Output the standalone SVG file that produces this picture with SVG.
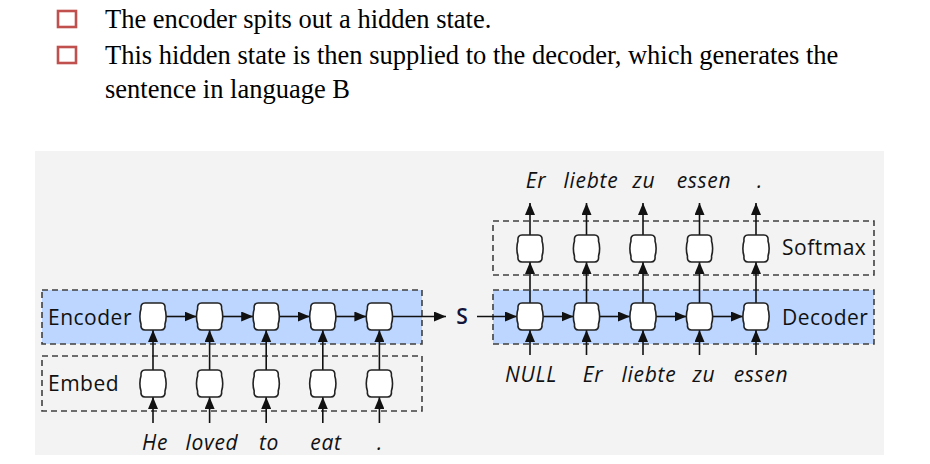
<svg xmlns="http://www.w3.org/2000/svg" xmlns:xlink="http://www.w3.org/1999/xlink" width="930" height="464" viewBox="0 0 930 464">
<style>
.hdr{font-family:"Liberation Serif","Times New Roman",serif;font-size:26.5px;fill:#000}
.bul{fill:none;stroke:#c0504d;stroke-width:2.6}
.lbl{font-family:"Open Sans","Noto Sans",sans-serif;font-size:21px;letter-spacing:0.5px;fill:#111}
.word{font-family:"Open Sans","Noto Sans",sans-serif;font-size:21px;font-style:italic;letter-spacing:0.7px;fill:#111}
.box{stroke:#404040;stroke-width:1.6;stroke-dasharray:6,4}
.cell{fill:#fff;stroke:#222;stroke-width:1.6}
.ar{stroke:#111;stroke-width:1.6;fill:none;marker-end:url(#ah)}
</style>
<defs>
<marker id="ah" markerUnits="userSpaceOnUse" markerWidth="13" markerHeight="10" refX="12" refY="5" orient="auto">
<path d="M0,0 L12,5 L0,10 Z" fill="#111"/>
</marker>
<path id="cell" class="cell" d="M5,0 H21 C24,0 25.5,2 25,6 C26.5,10 26.5,17 25,21 C25.5,25 24,27 21,27 H5 C2,27 0.5,25 1,21 C-0.5,17 -0.5,10 1,6 C0.5,2 2,0 5,0 Z"/>
</defs>

<g id="header">
<rect class="bul" x="58" y="11" width="18" height="16"/>
<text class="hdr" x="105" y="28">The encoder spits out a hidden state.</text>
<rect class="bul" x="58" y="47" width="18" height="16"/>
<text class="hdr" x="105" y="64">This hidden state is then supplied to the decoder, which generates the</text>
<text class="hdr" x="105" y="98">sentence in language B</text>
</g>

<rect x="35" y="151" width="849" height="304" fill="#f3f3f3"/>

<g id="encoder-layer">
<rect class="box" x="42" y="290" width="380" height="54" fill="#bcd6ff"/>
<text class="lbl" x="48" y="325">Encoder</text>
</g>
<g id="embed-layer">
<rect class="box" x="42" y="356" width="380" height="55" fill="none"/>
<text class="lbl" x="48" y="391">Embed</text>
</g>
<g id="decoder-layer">
<rect class="box" x="493" y="290" width="381" height="54" fill="#bcd6ff"/>
<text class="lbl" x="782" y="325">Decoder</text>
</g>
<g id="softmax-layer">
<rect class="box" x="493" y="221" width="381" height="54" fill="none"/>
<text class="lbl" x="782" y="255">Softmax</text>
</g>

<g id="connectors">
<line class="ar" x1="166" y1="316.5" x2="196.6" y2="316.5"/>
<line class="ar" x1="222.6" y1="316.5" x2="253.2" y2="316.5"/>
<line class="ar" x1="279.2" y1="316.5" x2="309.8" y2="316.5"/>
<line class="ar" x1="335.8" y1="316.5" x2="366.4" y2="316.5"/>
<line class="ar" x1="392.4" y1="316.5" x2="446" y2="316.5"/>
<line class="ar" x1="153" y1="370" x2="153" y2="330"/>
<line class="ar" x1="209.6" y1="370" x2="209.6" y2="330"/>
<line class="ar" x1="266.2" y1="370" x2="266.2" y2="330"/>
<line class="ar" x1="322.8" y1="370" x2="322.8" y2="330"/>
<line class="ar" x1="379.4" y1="370" x2="379.4" y2="330"/>
<line class="ar" x1="153" y1="423" x2="153" y2="397"/>
<line class="ar" x1="209.6" y1="423" x2="209.6" y2="397"/>
<line class="ar" x1="266.2" y1="423" x2="266.2" y2="397"/>
<line class="ar" x1="322.8" y1="423" x2="322.8" y2="397"/>
<line class="ar" x1="379.4" y1="423" x2="379.4" y2="397"/>
<line class="ar" x1="477" y1="316.5" x2="517" y2="316.5"/>
<line class="ar" x1="543" y1="316.5" x2="573.5" y2="316.5"/>
<line class="ar" x1="599.5" y1="316.5" x2="630" y2="316.5"/>
<line class="ar" x1="656" y1="316.5" x2="686.5" y2="316.5"/>
<line class="ar" x1="712.5" y1="316.5" x2="743" y2="316.5"/>
<line class="ar" x1="530" y1="355" x2="530" y2="330"/>
<line class="ar" x1="586.5" y1="355" x2="586.5" y2="330"/>
<line class="ar" x1="643" y1="355" x2="643" y2="330"/>
<line class="ar" x1="699.5" y1="355" x2="699.5" y2="330"/>
<line class="ar" x1="756" y1="355" x2="756" y2="330"/>
<line class="ar" x1="530" y1="303" x2="530" y2="262"/>
<line class="ar" x1="586.5" y1="303" x2="586.5" y2="262"/>
<line class="ar" x1="643" y1="303" x2="643" y2="262"/>
<line class="ar" x1="699.5" y1="303" x2="699.5" y2="262"/>
<line class="ar" x1="756" y1="303" x2="756" y2="262"/>
<line class="ar" x1="530" y1="235" x2="530" y2="203"/>
<line class="ar" x1="586.5" y1="235" x2="586.5" y2="203"/>
<line class="ar" x1="643" y1="235" x2="643" y2="203"/>
<line class="ar" x1="699.5" y1="235" x2="699.5" y2="203"/>
<line class="ar" x1="756" y1="235" x2="756" y2="203"/>
</g>

<g id="encoder-cells">
<use href="#cell" x="140" y="303"/>
<use href="#cell" x="196.6" y="303"/>
<use href="#cell" x="253.2" y="303"/>
<use href="#cell" x="309.8" y="303"/>
<use href="#cell" x="366.4" y="303"/>
</g>
<g id="embed-cells">
<use href="#cell" x="140" y="370"/>
<use href="#cell" x="196.6" y="370"/>
<use href="#cell" x="253.2" y="370"/>
<use href="#cell" x="309.8" y="370"/>
<use href="#cell" x="366.4" y="370"/>
</g>
<g id="decoder-cells">
<use href="#cell" x="517" y="303"/>
<use href="#cell" x="573.5" y="303"/>
<use href="#cell" x="630" y="303"/>
<use href="#cell" x="686.5" y="303"/>
<use href="#cell" x="743" y="303"/>
</g>
<g id="softmax-cells">
<use href="#cell" x="517" y="235"/>
<use href="#cell" x="573.5" y="235"/>
<use href="#cell" x="630" y="235"/>
<use href="#cell" x="686.5" y="235"/>
<use href="#cell" x="743" y="235"/>
</g>

<g id="state-s">
<text x="462" y="324" text-anchor="middle" font-family="'Open Sans','Noto Sans',sans-serif" font-size="21" font-weight="600" fill="#14143a">S</text>
</g>

<g id="input-words" class="word" text-anchor="middle">
<text x="155" y="450">He</text>
<text x="212" y="450">loved</text>
<text x="269" y="450">to</text>
<text x="326" y="450">eat</text>
<text x="380" y="450">.</text>
</g>
<g id="decoder-inputs" class="word" text-anchor="middle">
<text x="531" y="382">NULL</text>
<text x="593" y="382">Er</text>
<text x="649" y="382">liebte</text>
<text x="704" y="382">zu</text>
<text x="761" y="382">essen</text>
</g>
<g id="outputs" class="word" text-anchor="middle">
<text x="536" y="188">Er</text>
<text x="591" y="188">liebte</text>
<text x="644" y="188">zu</text>
<text x="704" y="188">essen</text>
<text x="760" y="188">.</text>
</g>
</svg>
